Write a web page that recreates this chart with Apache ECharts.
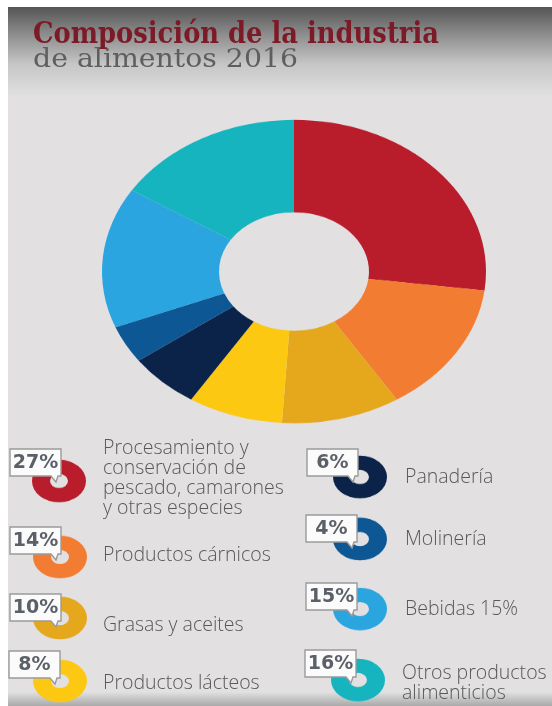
<!DOCTYPE html>
<html>
<head>
<meta charset="utf-8">
<script src="https://cdn.jsdelivr.net/npm/echarts@6/dist/echarts.min.js"></script>
<style>
  html, body { margin: 0; padding: 0; width: 552px; height: 706px; overflow: hidden; background: #ffffff; }
  .layer { position: absolute; left: 0; top: 0; width: 552px; height: 706px; }
  /* the donuts are drawn in a vertically squashed layer so they read as tilted ellipses */
  #pies { height: 894px; transform: scaleY(0.79); transform-origin: 0 0; }
</style>
</head>
<body>
<div id="bg" class="layer"></div>
<div id="pies" class="layer"></div>
<div id="txt" class="layer"></div>
<script>
// Composición de la industria de alimentos 2016 (% del total)
const categories = [
  'Procesamiento y\nconservación de\npescado, camarones\ny otras especies',
  'Productos cárnicos',
  'Grasas y aceites',
  'Productos lácteos',
  'Panadería',
  'Molinería',
  'Bebidas 15%',
  'Otros productos\nalimenticios'
];
const shares = [27, 14, 10, 8, 6, 4, 15, 16];
const titleLines = ['Composición de la industria', 'de alimentos 2016'];

const palette = ['#b91c2b', '#f27c31', '#e5a71b', '#fcc812', '#0b2348', '#0d5794', '#2aa5df', '#16b4bf'];

const SQ = 0.79;               // vertical squash of the pie layer
const W = 552, H = 706;

// legend slots: ring centre, badge corner, first text line centre
const slots = [
  { cx: 59,  cy: 481, bx: 10,  by: 449, tx: 103, ty: 448 },
  { cx: 60,  cy: 557, bx: 10,  by: 527, tx: 103, ty: 555 },
  { cx: 60,  cy: 618, bx: 10,  by: 594, tx: 103, ty: 625 },
  { cx: 60,  cy: 681, bx: 9,   by: 651, tx: 103, ty: 683 },
  { cx: 360, cy: 477, bx: 307, by: 449, tx: 405, ty: 477 },
  { cx: 360, cy: 539, bx: 306, by: 515, tx: 405, ty: 539 },
  { cx: 360, cy: 609, bx: 306, by: 583, tx: 405, ty: 609 },
  { cx: 358, cy: 680, bx: 305, by: 650, tx: 402, ty: 673 }
];

const items = categories.map((name, i) => ({ name, value: shares[i], itemStyle: { color: palette[i] } }));

/* ---------- background ---------- */
const bg = echarts.init(document.getElementById('bg'), null, { renderer: 'canvas' });
bg.setOption({
  animation: false,
  graphic: [
    { type: 'rect', shape: { x: 8, y: 7, width: W - 8, height: H - 7 }, style: { fill: '#e2e0e1' } },
    { type: 'rect', shape: { x: 8, y: 7, width: W - 8, height: 88 },
      style: { fill: new echarts.graphic.LinearGradient(0, 0, 0, 1, [
        { offset: 0, color: '#555555' },
        { offset: 0.3, color: '#8b8b8b' },
        { offset: 0.65, color: '#c6c6c6' },
        { offset: 1, color: '#e0dfdf' }
      ]) } },
    { type: 'rect', shape: { x: 8, y: 692, width: W - 8, height: 14 },
      style: { fill: new echarts.graphic.LinearGradient(0, 0, 0, 1, [
        { offset: 0, color: '#e2e0e1' },
        { offset: 1, color: '#a9a9a9' }
      ]) } }
  ]
});

/* ---------- donuts ---------- */
const pies = echarts.init(document.getElementById('pies'), null, { renderer: 'canvas', height: 894 });
const pieBase = {
  type: 'pie',
  startAngle: 90,
  clockwise: true,
  label: { show: false },
  labelLine: { show: false },
  emphasis: { disabled: true },
  silent: true,
  itemStyle: { borderWidth: 0 }
};
const series = [
  Object.assign({}, pieBase, {
    name: 'industria',
    center: [294, 271.5 / SQ],
    radius: [75, 192],
    data: items
  })
];
slots.forEach((s, i) => {
  series.push(Object.assign({}, pieBase, {
    name: 'icono' + i,
    center: [s.cx, s.cy / SQ],
    radius: [9, 27],
    data: [{ name: categories[i], value: shares[i], itemStyle: { color: palette[i] } }]
  }));
});
pies.setOption({ animation: false, series });

/* ---------- texts and badges ---------- */
const txt = echarts.init(document.getElementById('txt'), null, { renderer: 'canvas' });
const labelFont = '"Open Sans", Lato, sans-serif';
const g = [
  { type: 'text', x: 33, y: 20, scaleX: 0.86, style: {
      text: titleLines[0], fill: '#7c1a27', font: 'bold 30px "DejaVu Serif", serif' } },
  { type: 'text', x: 33, y: 47, scaleX: 1.09, style: {
      text: titleLines[1], fill: '#5e5e5e', font: '26px "DejaVu Serif", serif' } }
];
const BW = 51, BH = 27;
slots.forEach((s, i) => {
  const x0 = s.bx, y0 = s.by, x1 = s.bx + BW, y1 = s.by + BH;
  g.push({ type: 'polygon', shape: { points: [
      [x0, y0], [x1, y0], [x1, y1], [x1 - 3, y1], [x1 - 5, y1 + 6], [x1 - 10, y1], [x0, y1]
    ] }, style: { fill: '#fbfbfb', stroke: '#9b9b9b', lineWidth: 1.4 } });
  g.push({ type: 'text', x: (x0 + x1) / 2, y: (y0 + y1) / 2 + 1, style: {
      text: shares[i] + '%', fill: '#5b5f68', font: 'bold 19px "DejaVu Sans", sans-serif',
      align: 'center', verticalAlign: 'middle' } });
  categories[i].split('\n').forEach((line, k) => {
    g.push({ type: 'text', x: s.tx, y: s.ty + k * 20.3, style: {
        text: line, fill: '#585858', font: '300 19.5px ' + labelFont, verticalAlign: 'middle' } });
  });
});
txt.setOption({ animation: false, graphic: g });
</script>
</body>
</html>
